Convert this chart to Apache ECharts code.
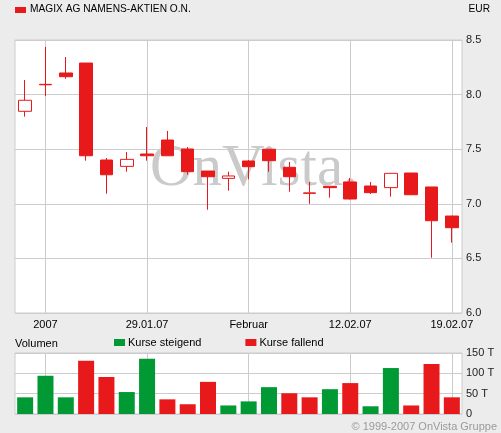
<!DOCTYPE html>
<html>
<head>
<meta charset="utf-8">
<script src="https://cdn.jsdelivr.net/npm/echarts@6/dist/echarts.min.js"></script>
<style>
html, body { margin: 0; padding: 0; background: #ececec; }
#chart { width: 501px; height: 433px; }
</style>
</head>
<body>
<div id="chart"></div>
<script>
// handelstage 19.01.07 - 19.02.07
const dates = ['19.01.07', '22.01.07', '23.01.07', '24.01.07', '25.01.07', '26.01.07',
    '29.01.07', '30.01.07', '31.01.07', '01.02.07', '02.02.07',
    '05.02.07', '06.02.07', '07.02.07', '08.02.07', '09.02.07',
    '12.02.07', '13.02.07', '14.02.07', '15.02.07', '16.02.07', '19.02.07'];

// [open, close, low, high]
const kurse = [
    [7.847, 7.948, 7.798, 8.134],
    [8.094, 8.09, 7.987, 8.436],
    [8.198, 8.164, 8.146, 8.344],
    [8.289, 7.44, 7.395, 8.289],
    [7.401, 7.266, 7.093, 7.419],
    [7.343, 7.407, 7.294, 7.474],
    [7.456, 7.44, 7.395, 7.703],
    [7.584, 7.44, 7.44, 7.667],
    [7.502, 7.294, 7.267, 7.52],
    [7.30, 7.248, 6.946, 7.30],
    [7.233, 7.255, 7.12, 7.294],
    [7.392, 7.34, 7.224, 7.40],
    [7.50, 7.395, 7.294, 7.50],
    [7.334, 7.248, 7.11, 7.383],
    [7.10, 7.096, 7.0, 7.20],
    [7.16, 7.148, 7.056, 7.16],
    [7.20, 7.044, 7.04, 7.236],
    [7.163, 7.102, 7.09, 7.20],
    [7.148, 7.279, 7.065, 7.279],
    [7.282, 7.083, 7.083, 7.282],
    [7.154, 6.845, 6.506, 7.154],
    [6.888, 6.781, 6.644, 6.89]
];

// volumen in tausend stueck
const volumen = [41, 94, 41, 131, 91, 54, 136, 36, 24, 79, 21, 31, 66, 51, 41, 61, 76, 19, 113, 21, 123, 41];
// 1 = kurs steigend, -1 = kurs fallend
const richtung = [1, 1, 1, -1, -1, 1, 1, -1, -1, -1, 1, 1, 1, -1, -1, 1, -1, 1, 1, -1, -1, -1];

// beschriftung der x-achse (index -> text)
const xLabels = { 1: '2007', 6: '29.01.07', 11: 'Februar', 16: '12.02.07', 21: '19.02.07' };
const kursTicks = [6.0, 6.5, 7.0, 7.5, 8.0, 8.5];
const volTicks = [0, 50, 100, 150];

const ROT = '#e8191a';
const GRUEN = '#009933';
const FONT = 'Liberation Sans, Arial, sans-serif';

let chart = echarts.init(document.getElementById('chart'));

let wochenLinien = Object.keys(xLabels).map(i => ({ xAxis: dates[i] }));
let markLinie = {
    silent: true,
    symbol: 'none',
    label: { show: false },
    lineStyle: { color: '#cccccc', width: 1, type: 'solid' },
    data: wochenLinien,
    z: 1
};

let steigend = volumen.map((v, i) => richtung[i] > 0 ? v : '-');
let fallend = volumen.map((v, i) => richtung[i] < 0 ? v : '-');

let options = {
    animation: false,
    backgroundColor: '#ececec',
    textStyle: { fontFamily: FONT },
    grid: [
        { left: 15, right: 39, top: 40, height: 273, show: true, backgroundColor: '#fff', borderColor: '#cccccc', borderWidth: 1 },
        { left: 15, right: 39, top: 353, height: 61, show: true, backgroundColor: '#fff', borderColor: '#cccccc', borderWidth: 1 }
    ],
    legend: {
        left: 114,
        top: 337,
        padding: 0,
        itemWidth: 11,
        itemHeight: 7,
        itemGap: 44,
        icon: 'rect',
        textStyle: { fontSize: 11, color: '#000', fontFamily: FONT, padding: [0, 0, 0, -2] },
        data: ['Kurse steigend', 'Kurse fallend']
    },
    xAxis: [
        {
            type: 'category', gridIndex: 0, data: dates, boundaryGap: true,
            axisLine: { show: false }, axisTick: { show: false }, splitLine: { show: false },
            axisLabel: {
                interval: 0, margin: 6, fontSize: 11, color: '#000', fontFamily: FONT,
                formatter: (v, i) => xLabels[i] || ''
            }
        },
        {
            type: 'category', gridIndex: 1, data: dates, boundaryGap: true,
            axisLine: { show: false }, axisTick: { show: false }, splitLine: { show: false },
            axisLabel: { show: false }
        }
    ],
    yAxis: [
        {
            type: 'value', gridIndex: 0, position: 'right', min: 6, max: 8.5, interval: 0.5,
            axisLine: { show: false }, axisTick: { show: false },
            splitLine: { lineStyle: { color: '#cccccc', width: 1 } },
            axisLabel: {
                margin: 4, fontSize: 11, color: '#222', fontFamily: FONT,
                formatter: v => kursTicks.indexOf(v) >= 0 ? v.toFixed(1) : ''
            }
        },
        {
            type: 'value', gridIndex: 1, position: 'right', min: 0, max: 150, interval: 50,
            axisLine: { show: false }, axisTick: { show: false },
            splitLine: { lineStyle: { color: '#cccccc', width: 1 } },
            axisLabel: {
                margin: 4, fontSize: 11, color: '#222', fontFamily: FONT,
                formatter: v => volTicks.indexOf(v) < 0 ? '' : (v === 0 ? '0' : v + ' T')
            }
        }
    ],
    graphic: [
        { type: 'rect', left: 15, top: 7, shape: { width: 11, height: 6 }, style: { fill: ROT } },
        { type: 'text', left: 30, top: 4, style: { text: 'MAGIX AG NAMENS-AKTIEN O.N.', font: '10.2px ' + FONT, fill: '#000' } },
        { type: 'text', right: 11, top: 4, style: { text: 'EUR', font: '10.2px ' + FONT, fill: '#000' } },
        { type: 'text', left: 15, top: 338, style: { text: 'Volumen', font: '11px ' + FONT, fill: '#000' } },
        { type: 'text', right: 4, top: 421, style: { text: '\u00a9 1999-2007 OnVista Gruppe', font: '11px ' + FONT, fill: '#9a9a9a' } },
        {
            type: 'text', left: 150, top: 140, z: 1, silent: true,
            style: {
                text: 'OnVista{d|.}',
                font: '59px Liberation Serif, Times New Roman, serif',
                fill: '#cacaca',
                rich: { d: { font: '59px Liberation Serif, serif', fill: '#eab4bb' } }
            }
        }
    ],
    series: [
        {
            name: 'Kurs',
            type: 'candlestick',
            xAxisIndex: 0, yAxisIndex: 0,
            barWidth: 13,
            z: 3,
            itemStyle: {
                color: '#ffffff', color0: ROT,
                borderColor: ROT, borderColor0: ROT, borderColorDoji: ROT,
                borderWidth: 1
            },
            data: kurse,
            markLine: markLinie
        },
        {
            name: 'Kurse steigend',
            type: 'bar', xAxisIndex: 1, yAxisIndex: 1, stack: 'vol',
            barWidth: 16, itemStyle: { color: GRUEN }, z: 3,
            data: steigend,
            markLine: markLinie
        },
        {
            name: 'Kurse fallend',
            type: 'bar', xAxisIndex: 1, yAxisIndex: 1, stack: 'vol',
            barWidth: 16, itemStyle: { color: ROT }, z: 3,
            data: fallend
        }
    ]
};

chart.setOption(options);
</script>
</body>
</html>
